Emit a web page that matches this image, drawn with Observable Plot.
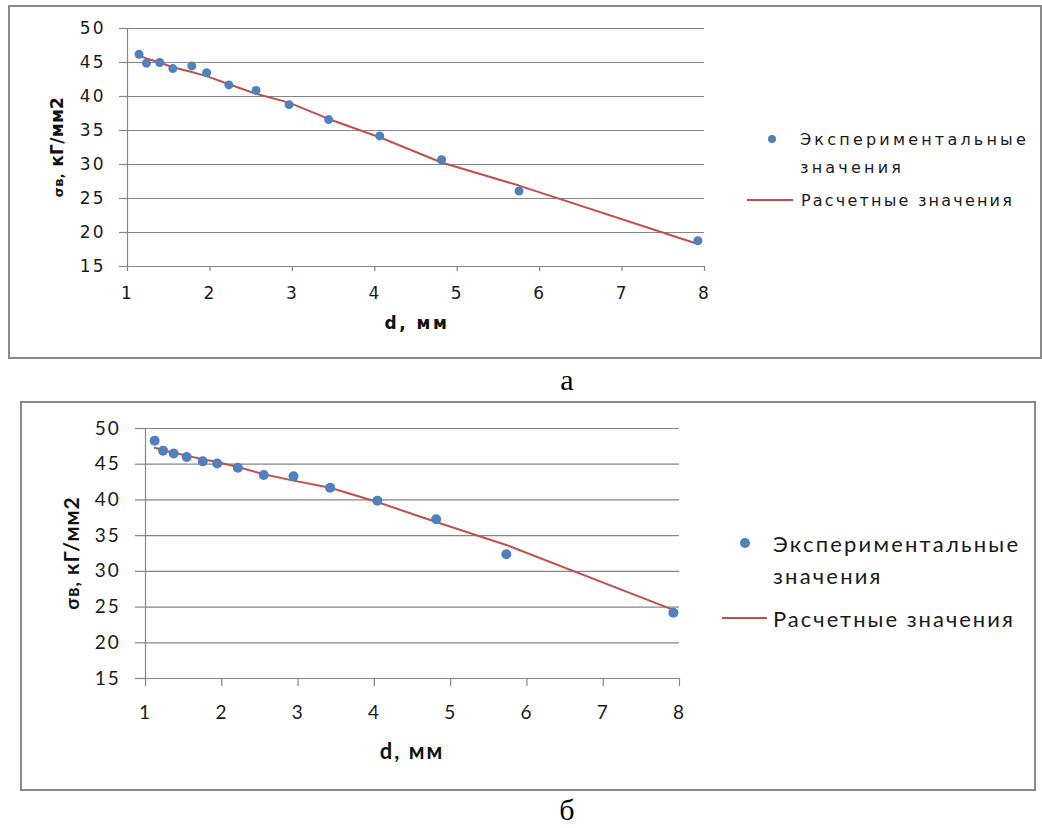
<!DOCTYPE html>
<html>
<head>
<meta charset="utf-8">
<script src="https://cdn.jsdelivr.net/npm/d3@7"></script>
<script src="https://cdn.jsdelivr.net/npm/@observablehq/plot@0.6"></script>
<style>
  html, body { margin:0; padding:0; background:#fff; }
  #root { position:relative; width:1042px; height:828px; overflow:hidden; background:#fff; }
  .box { position:absolute; border:2px solid #8a8a8a; box-sizing:border-box; }
  .abs { position:absolute; white-space:nowrap; }
  .plotwrap { position:absolute; left:0; }
  .plotwrap svg { display:block; }
</style>
</head>
<body>
<div id="root">
  <div class="box" style="left:8px;top:5px;width:1034px;height:354px;"></div>
  <div class="box" style="left:20px;top:401px;width:1016px;height:390px;"></div>
  <div id="pa" class="plotwrap" style="top:0px;"></div>
  <div id="pb" class="plotwrap" style="top:380px;"></div>
</div>
<script>
// ---------- data: chart а ----------
const dA = [1.14, 1.23, 1.39, 1.55, 1.78, 1.96, 2.23, 2.56, 2.96, 3.44, 4.06, 4.81, 5.75, 7.92];
const expA = [46.2, 44.9, 45.0, 44.1, 44.5, 43.5, 41.7, 40.9, 38.8, 36.6, 34.2, 30.7, 26.1, 18.8];
const calcA = [46.0, 45.6, 45.0, 44.3, 43.6, 43.0, 41.8, 40.4, 39.1, 36.7, 34.0, 30.3, 26.9, 18.3];
// ---------- data: chart б ----------
const dB = [1.12, 1.23, 1.37, 1.54, 1.75, 1.94, 2.21, 2.55, 2.94, 3.42, 4.04, 4.81, 5.73, 7.92];
const expB = [48.3, 46.9, 46.5, 46.0, 45.4, 45.1, 44.5, 43.5, 43.3, 41.7, 39.9, 37.3, 32.4, 24.2];
const calcB = [47.3, 47.0, 46.6, 46.2, 45.7, 45.3, 44.6, 43.6, 42.7, 41.7, 39.7, 36.9, 33.7, 24.6];
// ---------- axes ----------
const xTicks = [1, 2, 3, 4, 5, 6, 7, 8];
const yTicks = [15, 20, 25, 30, 35, 40, 45, 50];
const xTitle = "d, мм";
const yTitleSym = "σв,";
const yTitleUnit = " кГ/мм2";
const legendExp = ["Экспериментальные", "значения"];
const legendCalc = "Расчетные значения";
const panelLabels = ["а", "б"];

const rowsA = dA.map((d, i) => ({d, exp: expA[i], calc: calcA[i]}));
const rowsB = dB.map((d, i) => ({d, exp: expB[i], calc: calcB[i]}));

const GRID = "#868686", BLUE = "#4f81bd", RED = "#c0504d";

function chart(rows, o) {
  return Plot.plot({
    width: 1042, height: o.height,
    marginLeft: o.ml, marginRight: o.mr, marginTop: o.mt, marginBottom: o.mb,
    x: {domain: [1, 8]},
    y: {domain: [15, 50]},
    style: {fontFamily: o.font, fontSize: o.fs + "px", background: "transparent", color: "#1a1a1a", letterSpacing: o.ls + "px", overflow: "visible"},
    marks: [
      Plot.gridY({ticks: yTicks, stroke: GRID, strokeOpacity: 1, strokeWidth: 1.2}),
      Plot.axisY({ticks: yTicks, tickFormat: d3.format("d"), tickSize: o.yts, tickPadding: o.ytp, stroke: GRID, strokeWidth: 1.2, label: null}),
      Plot.axisX({ticks: xTicks, tickFormat: d3.format("d"), tickSize: o.xts, tickPadding: o.xtp, stroke: GRID, strokeWidth: 1.2, label: null}),
      Plot.ruleX([1], {stroke: GRID, strokeWidth: 1.2}),
      Plot.ruleY([15], {stroke: GRID, strokeWidth: 1.2}),
      Plot.line(rows, {x: "d", y: "calc", stroke: RED, strokeWidth: 2}),
      Plot.dot(rows, {x: "d", y: "exp", r: o.r, fill: BLUE, stroke: "none"})
    ]
  });
}

document.getElementById("pa").appendChild(chart(rowsA, {
  height: 380, ml: 127, mr: 338, mt: 28, mb: 114,
  font: "DejaVu Sans", fs: 17, ls: 2, yts: 8, ytp: 14, xts: 5, xtp: 15, r: 4.5
}));
document.getElementById("pb").appendChild(chart(rowsB, {
  height: 448, ml: 145, mr: 363, mt: 48, mb: 150,
  font: "Lato", fs: 19, ls: 1.8, yts: 10, ytp: 15, xts: 8, xtp: 19, r: 5
}));

const root = document.getElementById("root");
function add(html, style) {
  const el = document.createElement("div");
  el.className = "abs";
  el.innerHTML = html;
  Object.assign(el.style, style);
  root.appendChild(el);
  return el;
}
// ---- chart а texts ----
add(xTitle, {left: "417px", top: "323px", transform: "translate(-50%,-50%)", font: "bold 17px 'DejaVu Sans'", letterSpacing: "2.5px", color: "#111"});
add(`<span style="font-size:13px">${yTitleSym}</span><span style="font-size:17px">${yTitleUnit}</span>`,
  {left: "57px", top: "147px", transform: "translate(-50%,-50%) rotate(-90deg)", fontFamily: "'DejaVu Sans'", fontWeight: "bold", color: "#111", letterSpacing: "0.3px"});
add("", {left: "768px", top: "135px", width: "8px", height: "8px", borderRadius: "50%", background: BLUE});
add(legendExp[0], {left: "800px", top: "139px", transform: "translateY(-50%)", font: "16px 'DejaVu Sans'", letterSpacing: "3.2px", color: "#1a1a1a"});
add(legendExp[1], {left: "800px", top: "167px", transform: "translateY(-50%)", font: "16px 'DejaVu Sans'", letterSpacing: "3.2px", color: "#1a1a1a"});
add("", {left: "747px", top: "199px", width: "46px", height: "2px", background: RED});
add(legendCalc, {left: "801px", top: "200px", transform: "translateY(-50%)", font: "16px 'DejaVu Sans'", letterSpacing: "2.2px", color: "#1a1a1a"});
add(panelLabels[0], {left: "567px", top: "380px", transform: "translate(-50%,-50%)", font: "30px 'Liberation Serif'", color: "#000"});
// ---- chart б texts ----
add(xTitle, {left: "412px", top: "750px", transform: "translate(-50%,-50%)", font: "bold 22px Lato", letterSpacing: "2px", color: "#111"});
add(`<span style="font-size:19px">${yTitleSym}</span><span style="font-size:21px">${yTitleUnit}</span>`,
  {left: "70px", top: "553px", transform: "translate(-50%,-50%) rotate(-90deg)", fontFamily: "Lato", fontWeight: "bold", color: "#111", letterSpacing: "1px"});
add("", {left: "740px", top: "538px", width: "10px", height: "10px", borderRadius: "50%", background: BLUE});
add(legendExp[0], {left: "773px", top: "543px", transform: "translateY(-50%)", font: "22px Lato", letterSpacing: "2.2px", color: "#1a1a1a"});
add(legendExp[1], {left: "773px", top: "575px", transform: "translateY(-50%)", font: "22px Lato", letterSpacing: "2.2px", color: "#1a1a1a"});
add("", {left: "722px", top: "617px", width: "45px", height: "2px", background: RED});
add(legendCalc, {left: "773px", top: "618px", transform: "translateY(-50%)", font: "22px Lato", letterSpacing: "2px", color: "#1a1a1a"});
add(panelLabels[1], {left: "567px", top: "810px", transform: "translate(-50%,-50%)", font: "30px 'Liberation Serif'", color: "#000"});
</script>
</body>
</html>
